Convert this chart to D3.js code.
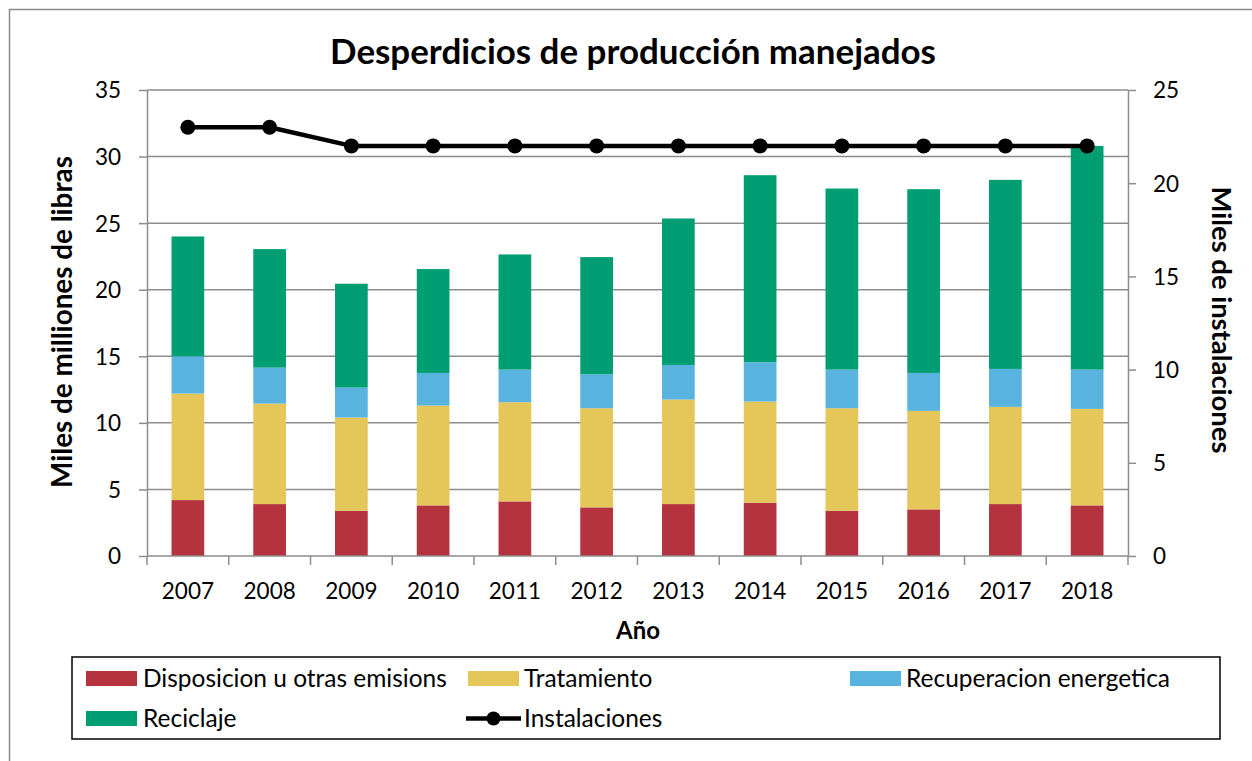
<!DOCTYPE html>
<html>
<head>
<meta charset="utf-8">
<script src="https://cdn.jsdelivr.net/npm/d3@7"></script>
<style>
  html, body { margin: 0; padding: 0; background: #fff; }
  svg { display: block; font-family: Lato, "Open Sans", sans-serif; }
</style>
</head>
<body>
<svg id="chart" width="1252" height="761"></svg>
<script>
// ---------- DATA ----------
const years = ["2007","2008","2009","2010","2011","2012","2013","2014","2015","2016","2017","2018"];
const disposicion  = [4.2, 3.9, 3.4, 3.8, 4.1, 3.65, 3.9, 4.0, 3.4, 3.5, 3.9, 3.8];
const tratamiento  = [8.0, 7.55, 7.0, 7.5, 7.45, 7.45, 7.85, 7.6, 7.7, 7.4, 7.3, 7.25];
const recuperacion = [2.8, 2.7, 2.25, 2.45, 2.45, 2.55, 2.6, 2.95, 2.9, 2.85, 2.85, 2.95];
const reciclaje    = [9.0, 8.9, 7.8, 7.8, 8.65, 8.8, 11.0, 14.05, 13.6, 13.8, 14.2, 16.8];
const instalaciones = [23, 23, 22, 22, 22, 22, 22, 22, 22, 22, 22, 22];
const leftTicks  = [0, 5, 10, 15, 20, 25, 30, 35];
const rightTicks = [0, 5, 10, 15, 20, 25];
const seriesNames = ["Disposicion u otras emisions", "Tratamiento", "Recuperacion energetica", "Reciclaje"];
const lineName = "Instalaciones";
const titleText = "Desperdicios de producción manejados";
const yLeftTitle = "Miles de milliones de libras";
const yRightTitle = "Miles de instalaciones";
const xTitle = "Año";

// ---------- STYLE ----------
const colors = ["#B5333F", "#E4C659", "#58B3DF", "#029E73"];
const gridColor = "#8d8d8d";

const svg = d3.select("#chart");
const plot = { left: 147, right: 1128, top: 90, bottom: 556 };

// outer chart border
svg.append("rect").attr("x", 9.5).attr("y", 9.5).attr("width", 1300).attr("height", 800)
  .attr("fill", "none").attr("stroke", "#8a8a8a").attr("stroke-width", 1.5);

function fit(sel, target) {
  const base = parseFloat(sel.style("font-size"));
  const len = sel.node().getComputedTextLength();
  const size = base * target / len;
  sel.style("font-size", size + "px");
  return size;
}

// ---------- SCALES ----------
const x = d3.scaleBand().domain(years).range([plot.left, plot.right]).paddingInner(0.6).paddingOuter(0.3);
const yL = d3.scaleLinear().domain([0, 35]).range([plot.bottom, plot.top]);
const yR = d3.scaleLinear().domain([0, 25]).range([plot.bottom, plot.top]);

// gridlines
svg.append("g").selectAll("line").data(leftTicks.filter(d => d > 0)).join("line")
  .attr("x1", plot.left).attr("x2", plot.right)
  .attr("y1", d => yL(d)).attr("y2", d => yL(d))
  .attr("stroke", gridColor).attr("stroke-width", 1.5);

// ---------- STACKED BARS ----------
const table = years.map((y, i) => ({
  year: y, s0: disposicion[i], s1: tratamiento[i], s2: recuperacion[i], s3: reciclaje[i]
}));
const stack = d3.stack().keys(["s0", "s1", "s2", "s3"])(table);
svg.append("g").selectAll("g").data(stack).join("g")
  .attr("fill", (d, i) => colors[i])
  .selectAll("rect").data(d => d).join("rect")
  .attr("x", d => x(d.data.year))
  .attr("width", x.bandwidth())
  .attr("y", d => yL(d[1]))
  .attr("height", d => yL(d[0]) - yL(d[1]));

// ---------- AXES ----------
const tickFont = 22.5;
const axL = svg.append("g").attr("transform", `translate(${plot.left},0)`)
  .call(d3.axisLeft(yL).tickValues(leftTicks).tickSize(8).tickPadding(18).tickSizeOuter(0));
const axR = svg.append("g").attr("transform", `translate(${plot.right},0)`)
  .call(d3.axisRight(yR).tickValues(rightTicks).tickSize(8).tickPadding(17).tickSizeOuter(0));
[axL, axR].forEach(a => {
  a.select(".domain").attr("stroke", gridColor).attr("stroke-width", 1.5);
  a.selectAll(".tick line").attr("stroke", gridColor).attr("stroke-width", 1.5);
  a.selectAll("text").attr("fill", "#000").style("font-size", tickFont + "px")
    .style("font-family", "Lato, sans-serif").attr("dy", "0.35em");
});

const axB = svg.append("g").attr("transform", `translate(0,${plot.bottom})`)
  .call(d3.axisBottom(x).tickSize(0).tickPadding(0).tickSizeOuter(0));
axB.select(".domain").attr("stroke", gridColor).attr("stroke-width", 1.5)
  .attr("d", `M${plot.left},0H${plot.right}`);
axB.selectAll("text").attr("fill", "#000").attr("y", 43).attr("dy", null)
  .style("font-size", tickFont + "px").style("font-family", "Lato, sans-serif");
// category boundary ticks
const bounds = d3.range(years.length + 1).map(i => plot.left + i * x.step());
axB.append("g").selectAll("line").data(bounds).join("line")
  .attr("x1", d => d).attr("x2", d => d).attr("y1", 0).attr("y2", 9)
  .attr("stroke", gridColor).attr("stroke-width", 1.5);

// ---------- LINE ----------
const cx = d => x(d) + x.bandwidth() / 2;
const lineGen = d3.line().x((d, i) => cx(years[i])).y(d => yR(d));
svg.append("path").datum(instalaciones).attr("d", lineGen)
  .attr("fill", "none").attr("stroke", "#000").attr("stroke-width", 4.5).attr("stroke-linejoin", "round");
svg.append("g").selectAll("circle").data(instalaciones).join("circle")
  .attr("cx", (d, i) => cx(years[i])).attr("cy", d => yR(d)).attr("r", 7.5).attr("fill", "#000");

// ---------- TITLES ----------
const title = svg.append("text").attr("x", 633).attr("y", 64).attr("text-anchor", "middle")
  .style("font-weight", "bold").style("font-size", "32px").text(titleText);
fit(title, 606);

const lt = svg.append("text").attr("transform", "translate(62,322) rotate(-90)")
  .attr("text-anchor", "middle").attr("dy", "0.35em")
  .style("font-weight", "bold").style("font-size", "24px").text(yLeftTitle);
fit(lt, 332);

const rt = svg.append("text").attr("transform", "translate(1222,320) rotate(90)")
  .attr("text-anchor", "middle").attr("dy", "0.35em")
  .style("font-weight", "bold").style("font-size", "24px").text(yRightTitle);
fit(rt, 267);

const xt = svg.append("text").attr("x", 638).attr("y", 639).attr("text-anchor", "middle")
  .style("font-weight", "bold").style("font-size", "22px").text(xTitle);
fit(xt, 44);

// ---------- LEGEND ----------
svg.append("rect").attr("x", 72).attr("y", 657).attr("width", 1148).attr("height", 82)
  .attr("fill", "#fff").attr("stroke", "#000").attr("stroke-width", 1.5);

const legItems = [
  { name: seriesNames[0], type: "rect", color: colors[0], sx: 86,  tx: 143, cy: 678.5 },
  { name: seriesNames[1], type: "rect", color: colors[1], sx: 468, tx: 524, cy: 678.5 },
  { name: seriesNames[2], type: "rect", color: colors[2], sx: 850, tx: 906, cy: 678.5 },
  { name: seriesNames[3], type: "rect", color: colors[3], sx: 86,  tx: 143, cy: 718.5 },
  { name: lineName,       type: "line", color: "#000",    sx: 466, tx: 524, cy: 718.5 }
];
const leg = svg.append("g");
let legFont = null;
legItems.forEach((it, k) => {
  if (it.type === "rect") {
    leg.append("rect").attr("x", it.sx).attr("y", it.cy - 7.5).attr("width", 51).attr("height", 15).attr("fill", it.color);
  } else {
    leg.append("line").attr("x1", it.sx).attr("x2", it.sx + 55).attr("y1", it.cy).attr("y2", it.cy)
      .attr("stroke", "#000").attr("stroke-width", 4.5);
    leg.append("circle").attr("cx", it.sx + 27.5).attr("cy", it.cy).attr("r", 7).attr("fill", "#000");
  }
  const t = leg.append("text").attr("x", it.tx).attr("y", it.cy).attr("dy", "0.35em")
    .style("font-size", "21px").text(it.name);
  if (k === 0) legFont = fit(t, 304);
  else t.style("font-size", legFont + "px");
});
</script>
</body>
</html>
